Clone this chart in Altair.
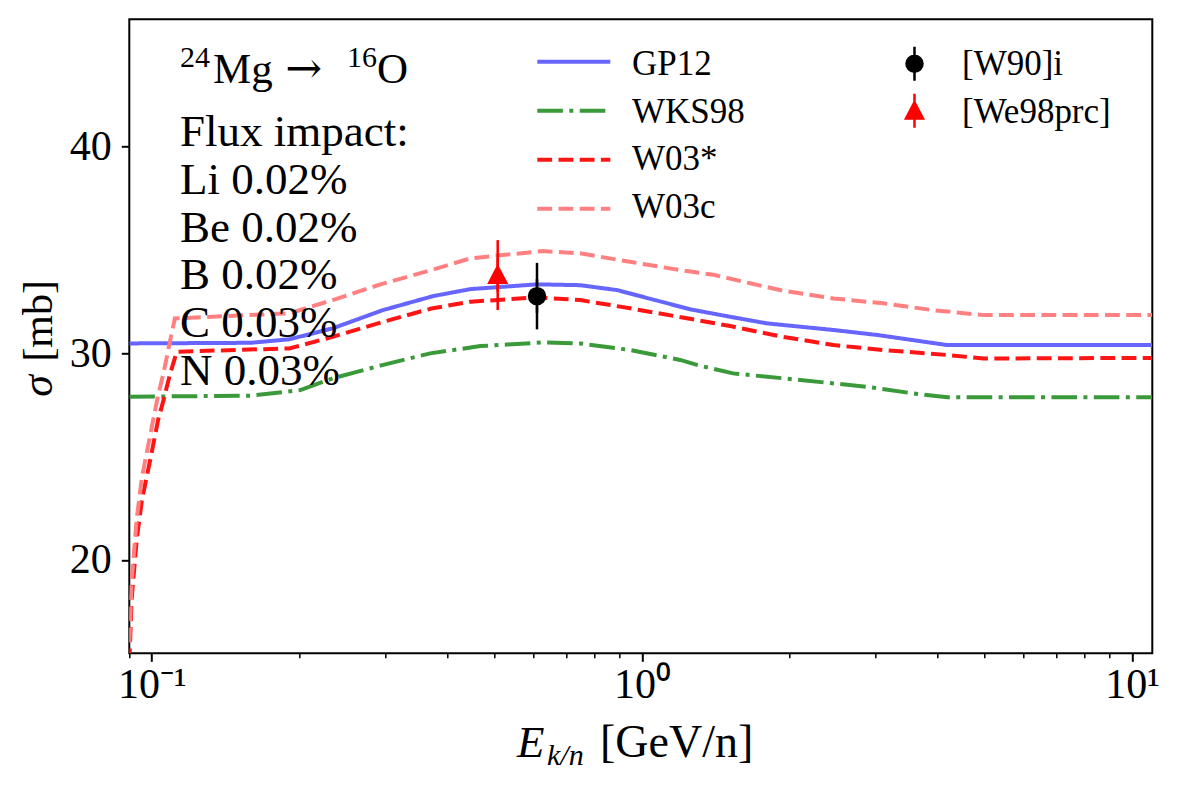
import altair as alt
import pandas as pd

# ---------------- data ----------------
series_names = ["GP12", "WKS98", "W03*", "W03c"]
series_colors = ["#6666ff", "#3a9a3a", "#ff1414", "#ff8080"]

gp12_E = [0.090, 0.159, 0.191, 0.234, 0.296, 0.375, 0.447, 0.611, 0.748, 0.891,
          1.255, 1.514, 1.80, 2.46, 3.02, 4.20, 11.0]
gp12_sig = [30.48, 30.51, 30.68, 31.21, 32.09, 32.77, 33.11, 33.34, 33.30, 33.06,
            32.13, 31.77, 31.45, 31.13, 30.89, 30.40, 30.40]

wks98_E = [0.090, 0.159, 0.201, 0.234, 0.294, 0.370, 0.468, 0.628, 0.748, 0.946,
           1.197, 1.315, 1.535, 2.105, 2.88, 3.65, 4.20, 11.0]
wks98_sig = [27.90, 27.95, 28.22, 28.79, 29.42, 30.00, 30.35, 30.53, 30.48, 30.16,
             29.68, 29.40, 29.03, 28.71, 28.38, 28.03, 27.87, 27.87]

w03s_E = [0.090, 0.091, 0.0932, 0.0955, 0.0992, 0.1031, 0.1056, 0.109, 0.1125, 0.191,
          0.234, 0.294, 0.372, 0.447, 0.611, 0.748, 0.946, 1.297, 1.514, 1.94,
          2.46, 3.11, 4.20, 4.98, 11.0]
w03s_sig = [15.0, 18.1, 21.0, 22.9, 24.8, 26.8, 27.7, 29.0, 30.08, 30.24,
            30.80, 31.50, 32.17, 32.50, 32.71, 32.58, 32.18, 31.61, 31.32, 30.80,
            30.40, 30.16, 29.92, 29.75, 29.78]

w03c_E = [0.090, 0.091, 0.0932, 0.0955, 0.0992, 0.1031, 0.1056, 0.109, 0.1115, 0.191,
          0.234, 0.294, 0.372, 0.447, 0.628, 0.748, 0.946, 1.197, 1.40, 1.663,
          1.94, 2.46, 3.11, 3.93, 4.98, 11.0]
w03c_sig = [16.0, 19.0, 22.0, 24.0, 26.0, 28.0, 29.0, 30.6, 31.69, 31.94,
            32.58, 33.35, 34.03, 34.60, 34.95, 34.84, 34.43, 34.03, 33.80, 33.39,
            33.03, 32.66, 32.42, 32.09, 31.85, 31.85]

exp_names = ["[W90]i", "[We98prc]"]
exp_colors = ["#000000", "#ff0000"]
exp_E = [0.611, 0.508]
exp_sig = [32.77, 33.79]
exp_err = [1.61, 1.69]

x_domain = [0.09, 11.0]
y_domain = [15.48, 46.17]
x_major = [0.1, 1, 10]
x_major_labels = ["10⁻¹", "10⁰", "10¹"]
x_minor = [0.09, 0.2, 0.3, 0.4, 0.5, 0.6, 0.7, 0.8, 0.9,
           2, 3, 4, 5, 6, 7, 8, 9]
y_ticks = [20, 30, 40]

title_parts = ["24", "Mg", "→", "16", "O"]
impact_lines = ["Flux impact:", "Li 0.02%", "Be 0.02%", "B 0.02%", "C 0.03%", "N 0.03%"]

# ---------------- tables ----------------
rows = []
for name, xs, ys in zip(series_names,
                        [gp12_E, wks98_E, w03s_E, w03c_E],
                        [gp12_sig, wks98_sig, w03s_sig, w03c_sig]):
    for xv, yv in zip(xs, ys):
        rows.append({"model": name, "E": xv, "sigma": yv})
lines_df = pd.DataFrame(rows)

pts_df = pd.DataFrame({
    "src": exp_names,
    "E": exp_E,
    "sigma": exp_sig,
    "lo": [s - e for s, e in zip(exp_sig, exp_err)],
    "hi": [s + e for s, e in zip(exp_sig, exp_err)],
})

FONT = "Liberation Serif"
W, H = 1023, 634
LW = 4

xscale = alt.Scale(type="log", domain=x_domain, nice=False)
yscale = alt.Scale(domain=y_domain, nice=False, zero=False)

label_expr = " : ".join(
    [f"abs(datum.value - {v}) < 1e-6 ? '{l}'" for v, l in zip(x_major, x_major_labels)]
) + " : ''"

main_x_axis = alt.Axis(values=x_major, labelExpr=label_expr, orient="bottom",
                       tickSize=8, tickWidth=2, tickColor="black", domain=False,
                       grid=False, labelFont=FONT, labelFontSize=42, labelColor="black",
                       labelPadding=3, title=None, labelFlush=False, labelOverlap=False)
minor_x_axis = alt.Axis(values=x_minor, labels=False, orient="bottom",
                        tickSize=4.5, tickWidth=1.5, tickColor="black", domain=False,
                        grid=False, title=None)
y_axis = alt.Axis(values=y_ticks, orient="left", tickSize=8, tickWidth=2, tickColor="black",
                  domain=False, grid=False, labelFont=FONT, labelFontSize=42,
                  labelColor="black", labelPadding=10, title=None)

dash_range = [[1, 0], [25.6, 6.4, 4, 6.4], [14.8, 6.4], [14.8, 6.4]]

# horizontal line symbol twice as long as the nominal symbol box
line_symbol = "M-2,0L2,0"

# legend labels are drawn below as serif text (legend label font is not honoured)
line_legend = alt.Legend(title=None, orient="none", legendX=424, legendY=22,
                         symbolType=line_symbol, symbolSize=1332, symbolStrokeWidth=LW,
                         symbolFillColor="transparent",
                         labelFontSize=35, labelOpacity=0,
                         labelOffset=38, rowPadding=10, padding=0)

lines = alt.Chart(lines_df).mark_line(clip=True, strokeWidth=LW).encode(
    x=alt.X("E:Q", scale=xscale, axis=main_x_axis),
    y=alt.Y("sigma:Q", scale=yscale, axis=y_axis),
    color=alt.Color("model:N", scale=alt.Scale(domain=series_names, range=series_colors),
                    legend=line_legend, sort=series_names),
    strokeDash=alt.StrokeDash("model:N", scale=alt.Scale(domain=series_names, range=dash_range),
                              legend=line_legend, sort=series_names),
)

circle_path = "M0,-1L0,1M-0.47,0A0.47,0.47,0,1,1,0.47,0A0.47,0.47,0,1,1,-0.47,0Z"
tri_path = "M0,-1L0,1M0,-0.5L0.5,0.45L-0.5,0.45Z"

pt_legend = alt.Legend(title=None, orient="none", legendX=766.7, legendY=26,
                       symbolSize=1156, symbolStrokeWidth=2.5,
                       labelFontSize=35, labelOpacity=0,
                       labelOffset=28, rowPadding=2, padding=0)

errbars = alt.Chart(pts_df).mark_rule(strokeWidth=2.5).encode(
    x=alt.X("E:Q", scale=xscale, axis=None),
    y=alt.Y("lo:Q", scale=yscale, axis=y_axis),
    y2="hi:Q",
    stroke=alt.Stroke("src:N", scale=alt.Scale(domain=exp_names, range=exp_colors),
                      legend=pt_legend),
)

points = alt.Chart(pts_df).mark_point(filled=True, size=1156, strokeWidth=2.5, opacity=1).encode(
    x=alt.X("E:Q", scale=xscale, axis=None),
    y=alt.Y("sigma:Q", scale=yscale, axis=y_axis),
    fill=alt.Fill("src:N", scale=alt.Scale(domain=exp_names, range=exp_colors),
                  legend=pt_legend),
    stroke=alt.Stroke("src:N", scale=alt.Scale(domain=exp_names, range=exp_colors),
                      legend=pt_legend),
    shape=alt.Shape("src:N", scale=alt.Scale(domain=exp_names, range=[circle_path, tri_path]),
                    legend=pt_legend),
)

one = pd.DataFrame({"k": [0]})


def txt(text, x, y, size=45, style="normal", angle=0, align="left", baseline="alphabetic",
        font=FONT, **kw):
    return alt.Chart(one).mark_text(text=text, font=font, fontSize=size, fontStyle=style,
                                    angle=angle, align=align, baseline=baseline,
                                    color="black", **kw).encode(
        x=alt.value(x), y=alt.value(y))


annots = [
    txt(title_parts[0], 50.7, 47.4, size=30),
    txt(title_parts[1], 83.7, 64.0, size=43),
    txt(title_parts[2], 156.0, 64.0, size=44, font="DejaVu Serif"),
    txt(title_parts[3], 217.7, 47.7, size=30),
    txt(title_parts[4], 247.7, 64.0, size=43),
    txt(impact_lines, 50.7, 126.7, lineHeight=47.8),
    # legend labels
    txt(series_names, 502.7, 55.7, size=35, lineHeight=47.7),
    txt(exp_names, 832.7, 55.7, size=35, lineHeight=48),
    # y title
    txt("σ", -77.6, 377.4, size=44, style="italic", angle=270),
    txt("[mb]", -77.6, 260.7, size=42, angle=270, align="right"),
    # x title
    txt("E", 387.7, 737.7, size=45, style="italic"),
    txt("k/n", 417.7, 745.7, size=30, style="italic"),
    txt("[GeV/n]", 470.7, 737.7, size=46),
]

minor = alt.Chart(lines_df).mark_line(opacity=0).encode(
    x=alt.X("E:Q", scale=xscale, axis=minor_x_axis),
    y=alt.Y("sigma:Q", scale=yscale, axis=y_axis),
    detail="model:N",
)

chart = alt.layer(lines, errbars, points, minor, *annots).resolve_axis(
    x="independent", y="shared"
).properties(
    width=W, height=H,
    autosize=alt.AutoSizeParams(type="none"),
    padding={"left": 121.3, "top": 11.3, "right": 10, "bottom": 118},
    background="white",
).configure(
    font=FONT,
).configure_view(
    stroke="black", strokeWidth=2
)

chart.save("out.html", embed_options={"renderer": "svg", "actions": False})
